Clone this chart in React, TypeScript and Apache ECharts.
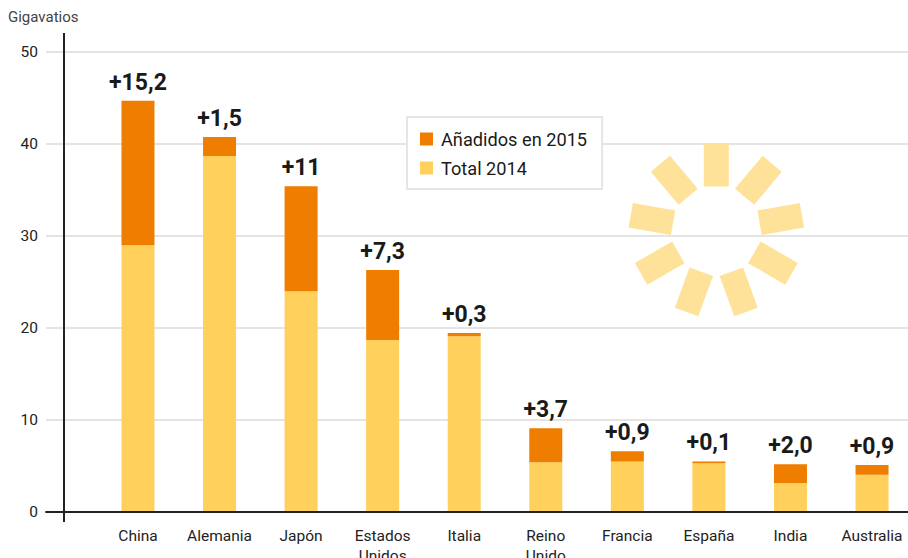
import React, { useEffect, useRef } from "react";
import * as echarts from "echarts";

const categories = ["China", "Alemania", "Japón", "Estados\nUnidos", "Italia", "Reino\nUnido", "Francia", "España", "India", "Australia"];
const total2014 = [29.0, 38.7, 24.0, 18.7, 19.1, 5.4, 5.5, 5.3, 3.15, 4.05];
const added2015 = [15.7, 2.05, 11.4, 7.6, 0.35, 3.7, 1.1, 0.2, 2.05, 1.05];
const addedLabels = ["+15,2", "+1,5", "+11", "+7,3", "+0,3", "+3,7", "+0,9", "+0,1", "+2,0", "+0,9"];
const yTicks = [0, 10, 20, 30, 40, 50];

const FONT = "Roboto, 'Noto Sans', sans-serif";

export default function App() {
  const ref = useRef<HTMLDivElement>(null);
  useEffect(() => {
    if (!ref.current) return;
    const chart = echarts.init(ref.current, null, { renderer: "svg" });
    const cx = 716.3, cy = 230.4, r = 65.4;
    const sun: any[] = [];
    for (let i = 0; i < 9; i++) {
      sun.push({
        type: "group",
        x: cx,
        y: cy,
        rotation: (-i * 40 * Math.PI) / 180,
        z: 1,
        children: [
          {
            type: "rect",
            shape: { x: -12.5, y: -r - 21.5, width: 25, height: 43 },
            style: { fill: "#FFE29A" },
            z: 1,
          },
        ],
      });
    }
    chart.setOption({
      animation: false,
      textStyle: { fontFamily: FONT },
      grid: [
        { left: 46, right: 0, top: 52, bottom: 46, outerBoundsMode: "none", containLabel: false },
        { left: 97.2, right: -4.8, top: 52, bottom: 46, outerBoundsMode: "none", containLabel: false },
      ],
      legend: {
        left: 407,
        top: 117,
        orient: "vertical",
        backgroundColor: "#fff",
        borderColor: "#e6e6e6",
        borderWidth: 2,
        padding: [13, 15, 12, 13],
        itemWidth: 13,
        itemHeight: 13,
        itemGap: 11,
        icon: "rect",
        data: ["Añadidos en 2015", "Total 2014"],
        textStyle: { fontFamily: FONT, fontSize: 18.2, color: "#1a1a1a", padding: [0, 0, 0, 3] },
        z: 5,
      },
      xAxis: [
        {
          gridIndex: 0,
          type: "value",
          min: 0,
          max: 1,
          axisLine: { show: true, lineStyle: { color: "#222", width: 2 } },
          axisTick: { show: false },
          axisLabel: { show: false },
          splitLine: { show: false },
          z: 3,
        },
        {
          gridIndex: 1,
          type: "category",
          data: categories,
          axisLine: { show: false },
          axisTick: { show: false },
          axisLabel: { fontFamily: FONT, fontSize: 15.5, color: "#222", margin: 14, lineHeight: 20, interval: 0 },
        },
      ],
      yAxis: [
        {
          gridIndex: 0,
          type: "value",
          min: yTicks[0],
          max: yTicks[yTicks.length - 1],
          interval: 10,
          axisLine: { show: false },
          axisTick: { show: false },
          axisLabel: { fontFamily: FONT, fontSize: 15.5, color: "#222", margin: 8 },
          splitLine: { show: true, lineStyle: { color: "#e4e4e4", width: 2 } },
        },
        { gridIndex: 1, type: "value", min: 0, max: 50, show: false },
      ],
      graphic: [
        ...sun,
        {
          type: "line",
          shape: { x1: 64, y1: 33, x2: 64, y2: 522 },
          style: { stroke: "#222", lineWidth: 2 },
          z: 10,
        },
        {
          type: "text",
          left: 8,
          top: 9,
          style: { text: "Gigavatios", fontFamily: FONT, fontSize: 15, fill: "#444" },
        },
      ],
      series: [
        {
          name: "Total 2014",
          type: "bar",
          xAxisIndex: 1,
          yAxisIndex: 1,
          stack: "t",
          barWidth: 33,
          data: total2014,
          itemStyle: { color: "#FFD15C" },
          z: 2,
        },
        {
          name: "Añadidos en 2015",
          type: "bar",
          xAxisIndex: 1,
          yAxisIndex: 1,
          stack: "t",
          barWidth: 33,
          data: added2015,
          itemStyle: { color: "#EF7D00" },
          label: {
            show: true,
            position: "top",
            distance: 7,
            formatter: (p: any) => addedLabels[p.dataIndex],
            fontFamily: FONT,
            fontSize: 23,
            fontWeight: "bold",
            color: "#1a1a1a",
          },
          z: 2,
        },
      ],
    });
    return () => chart.dispose();
  }, []);
  return <div ref={ref} style={{ width: 908, height: 558, position: "absolute", left: 0, top: 0 }} />;
}
